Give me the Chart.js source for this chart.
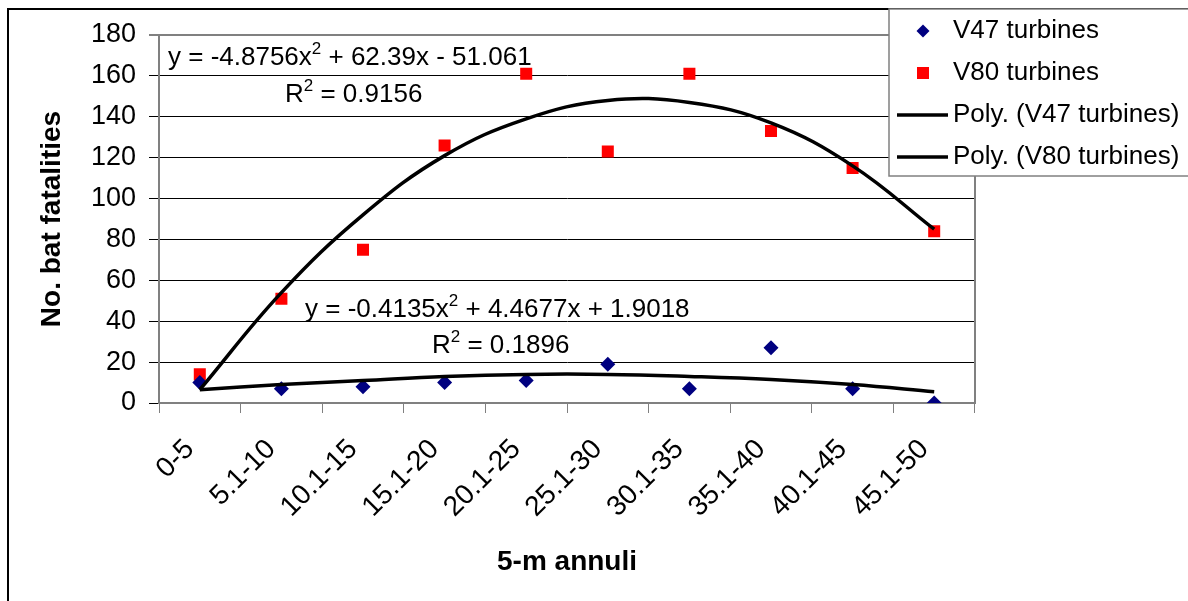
<!DOCTYPE html>
<html>
<head>
<meta charset="utf-8">
<script src="https://cdn.jsdelivr.net/npm/chart.js@4"></script>
<style>
  body { margin: 0; background: #fff; }
  #wrap { width: 1188px; height: 601px; }
</style>
</head>
<body>
<div id="wrap"><canvas id="chart" width="1188" height="601"></canvas></div>
<script>
// categories (5-m annuli) and values
const annuli = ['0-5', '5.1-10', '10.1-15', '15.1-20', '20.1-25', '25.1-30', '30.1-35', '35.1-40', '40.1-45', '45.1-50'];
const v47 = [10, 7, 8, 10, 11, 19, 7, 27, 7, 0];
const v80 = [14, 51, 75, 126, 161, 123, 161, 133, 115, 84];
// polynomial trendlines as they appear on the chart
const polyV47 = [6.5, 9, 11, 13, 14, 14, 13, 11.5, 9, 5.5];
const polyV80 = [6.5, 54, 92, 121, 139, 148, 147, 137, 116, 85];
const yTicks = [0, 20, 40, 60, 80, 100, 120, 140, 160, 180];

const eqV80 = ['y = -4.8756x', '2', ' + 62.39x - 51.061'];
const r2V80 = ['R', '2', ' = 0.9156'];
const eqV47 = ['y = -0.4135x', '2', ' + 4.4677x + 1.9018'];
const r2V47 = ['R', '2', ' = 0.1896'];

const FONT = '"Liberation Sans", Arial, sans-serif';

function drawSup(ctx, parts, x, y) {
  // parts: normal, superscript, normal
  ctx.textAlign = 'left';
  ctx.textBaseline = 'alphabetic';
  ctx.font = '26px ' + FONT;
  ctx.fillText(parts[0], x, y);
  x += ctx.measureText(parts[0]).width;
  ctx.font = '17px ' + FONT;
  ctx.fillText(parts[1], x, y - 11);
  x += ctx.measureText(parts[1]).width;
  ctx.font = '26px ' + FONT;
  ctx.fillText(parts[2], x, y);
}

const decor = {
  id: 'decor',
  beforeDraw(chart) {
    const ctx = chart.ctx;
    ctx.save();
    ctx.fillStyle = '#fff';
    ctx.fillRect(0, 0, chart.width, chart.height);
    ctx.strokeStyle = '#000';
    ctx.lineWidth = 2;
    ctx.strokeRect(8, 9, 1400, 800);
    ctx.restore();
  },
  beforeDatasetsDraw(chart) {
    const {ctx, chartArea: a} = chart;
    ctx.save();
    ctx.strokeStyle = '#808080';
    ctx.lineWidth = 2;
    ctx.beginPath();
    ctx.moveTo(a.right, a.top);
    ctx.lineTo(a.right, a.bottom);
    ctx.stroke();
    ctx.restore();
  },
  afterDraw(chart) {
    const ctx = chart.ctx;
    ctx.save();
    ctx.fillStyle = '#000';
    drawSup(ctx, eqV80, 168, 65);
    drawSup(ctx, r2V80, 285, 102);
    drawSup(ctx, eqV47, 305, 317);
    drawSup(ctx, r2V47, 432, 353);

    // legend box
    ctx.fillStyle = '#fff';
    ctx.fillRect(889, 9, 400, 167);
    ctx.strokeStyle = '#808080';
    ctx.lineWidth = 1.5;
    ctx.strokeRect(889, 9, 400, 167);
    const rows = [31, 73, 115, 157];
    chart.data.datasets.forEach((ds, i) => {
      const y = rows[i];
      if (ds.showLine === false) {
        ctx.fillStyle = ds.pointBackgroundColor;
        ctx.beginPath();
        if (ds.pointStyle === 'rectRot') {
          ctx.moveTo(923, y - 6.5); ctx.lineTo(929.5, y); ctx.lineTo(923, y + 6.5); ctx.lineTo(916.5, y);
        } else {
          ctx.rect(917, y - 6, 12, 12);
        }
        ctx.closePath();
        ctx.fill();
      } else {
        ctx.strokeStyle = ds.borderColor;
        ctx.lineWidth = ds.borderWidth;
        ctx.beginPath();
        ctx.moveTo(897, y); ctx.lineTo(948, y);
        ctx.stroke();
      }
      ctx.fillStyle = '#000';
      ctx.font = '26px ' + FONT;
      ctx.textAlign = 'left';
      ctx.textBaseline = 'middle';
      ctx.fillText(ds.label, 953, y);
    });
    ctx.restore();
  }
};

new Chart(document.getElementById('chart'), {
  type: 'line',
  data: {
    labels: annuli,
    datasets: [
      { label: 'V47 turbines', data: v47, showLine: false, pointStyle: 'rectRot', pointRadius: 7.5,
        pointBackgroundColor: '#000080', pointBorderColor: '#000080', pointBorderWidth: 0, order: 2 },
      { label: 'V80 turbines', data: v80, showLine: false, pointStyle: 'rect', pointRadius: 8.5,
        pointBackgroundColor: '#ff0000', pointBorderColor: '#ff0000', pointBorderWidth: 0, order: 2 },
      { label: 'Poly. (V47 turbines)', data: polyV47, borderColor: '#000', borderWidth: 3.5,
        pointRadius: 0, tension: 0.4, fill: false, order: 1 },
      { label: 'Poly. (V80 turbines)', data: polyV80, borderColor: '#000', borderWidth: 3.5,
        pointRadius: 0, tension: 0.4, fill: false, order: 1 }
    ]
  },
  options: {
    responsive: false,
    animation: false,
    layout: { padding: { left: 8, top: 35, right: 213, bottom: 0 } },
    plugins: {
      legend: { display: false },
      tooltip: { enabled: false }
    },
    scales: {
      x: {
        type: 'category',
        offset: true,
        afterFit(scale) { scale.height = 198; },
        grid: { offset: true, drawOnChartArea: false, tickLength: 10, color: '#808080', lineWidth: 1 },
        border: { color: '#808080', width: 2 },
        ticks: { minRotation: 45, maxRotation: 45, color: '#000', padding: 20, labelOffset: -10,
                 font: { family: FONT, size: 28 } },
        title: { display: true, text: '5-m annuli', color: '#000', font: { family: FONT, size: 28, weight: 'bold' },
                 padding: { top: 0, bottom: 22 } }
      },
      y: {
        min: 0,
        max: 180,
        afterFit(scale) { scale.width = 151; },
        afterBuildTicks(scale) { scale.ticks = yTicks.map(v => ({ value: v })); },
        grid: {
          color: c => (c.tick && c.tick.value === 180) ? '#808080' : '#000',
          lineWidth: c => (c.tick && c.tick.value === 180) ? 2 : 1,
          tickLength: 10
        },
        border: { color: '#808080', width: 2 },
        ticks: { color: '#000', padding: 13, font: { family: FONT, size: 27 } },
        title: { display: true, text: 'No. bat fatalities', color: '#000', font: { family: FONT, size: 28, weight: 'bold' },
                 padding: { top: 27, bottom: 0 } }
      }
    }
  },
  plugins: [decor]
});
</script>
</body>
</html>
